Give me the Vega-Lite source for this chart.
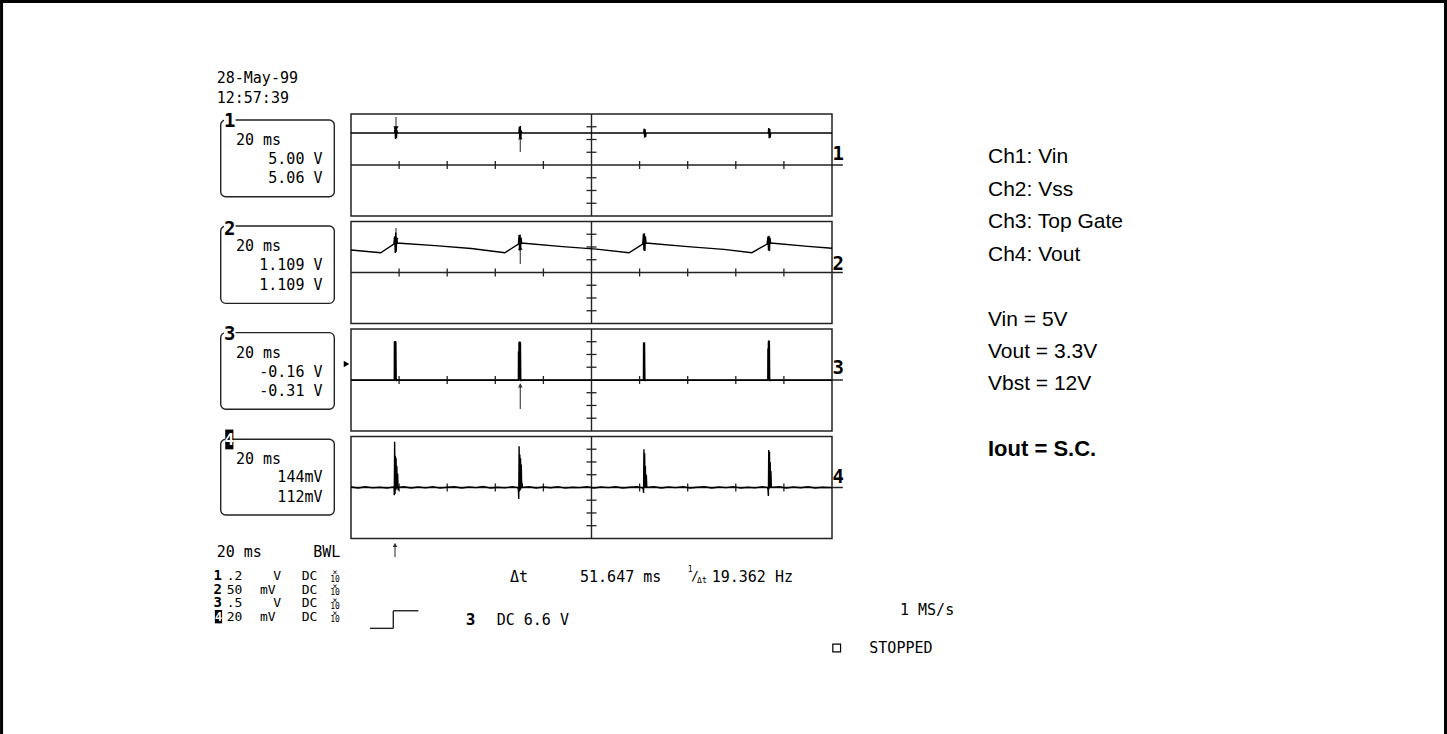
{
"$schema": "https://vega.github.io/schema/vega-lite/v6.json",
"width": 481, "height": 425,
"autosize": {"type": "none"},
"padding": {"left": 351, "top": 114, "right": 615, "bottom": 195},
"background": "white",
"config": {"view": {"stroke": null}},
"usermeta": {"embedOptions": {"actions": false}},
"datasets": {
"frame": [
{"x": -145.3, "x2": -145.3, "y": 9, "y2": -49},
{"x": 455.1, "x2": 455.1, "y": 9, "y2": -49},
{"x": -146, "x2": 456, "y": 8.82, "y2": 8.82}
],
"panels": [
{"x": 0, "x2": 200, "y": 0, "y2": -8},
{"x": 0, "x2": 200, "y": -8.43, "y2": -16.43},
{"x": 0, "x2": 200, "y": -16.86, "y2": -24.86},
{"x": 0, "x2": 200, "y": -25.29, "y2": -33.29}
],
"centerlines": [
{"x": 0, "x2": 204.5, "y": -4, "y2": -4},
{"x": 0, "x2": 204.5, "y": -12.43, "y2": -12.43},
{"x": 0, "x2": 204.5, "y": -20.86, "y2": -20.86},
{"x": 0, "x2": 204.5, "y": -29.29, "y2": -29.29},
{"x": 100, "x2": 100, "y": 0, "y2": -8},
{"x": 100, "x2": 100, "y": -8.43, "y2": -16.43},
{"x": 100, "x2": 100, "y": -16.86, "y2": -24.86},
{"x": 100, "x2": 100, "y": -25.29, "y2": -33.29},
{"x": 7.9, "x2": 17.59, "y": -40.34, "y2": -40.34},
{"x": 17.59, "x2": 17.59, "y": -40.34, "y2": -38.96},
{"x": 17.59, "x2": 27.98, "y": -38.96, "y2": -38.96}
],
"xticks": [
{"x": 20, "y": -4}, {"x": 40, "y": -4}, {"x": 60, "y": -4}, {"x": 80, "y": -4}, {"x": 120, "y": -4}, {"x": 140, "y": -4}, {"x": 160, "y": -4}, {"x": 180, "y": -4},
{"x": 20, "y": -12.43}, {"x": 40, "y": -12.43}, {"x": 60, "y": -12.43}, {"x": 80, "y": -12.43}, {"x": 120, "y": -12.43}, {"x": 140, "y": -12.43}, {"x": 160, "y": -12.43}, {"x": 180, "y": -12.43},
{"x": 20, "y": -20.86}, {"x": 40, "y": -20.86}, {"x": 60, "y": -20.86}, {"x": 80, "y": -20.86}, {"x": 120, "y": -20.86}, {"x": 140, "y": -20.86}, {"x": 160, "y": -20.86}, {"x": 180, "y": -20.86},
{"x": 20, "y": -29.29}, {"x": 40, "y": -29.29}, {"x": 60, "y": -29.29}, {"x": 80, "y": -29.29}, {"x": 120, "y": -29.29}, {"x": 140, "y": -29.29}, {"x": 160, "y": -29.29}, {"x": 180, "y": -29.29}
],
"yticks": [
{"x": 100, "y": -1}, {"x": 100, "y": -2}, {"x": 100, "y": -3}, {"x": 100, "y": -5}, {"x": 100, "y": -6}, {"x": 100, "y": -7},
{"x": 100, "y": -9.43}, {"x": 100, "y": -10.43}, {"x": 100, "y": -11.43}, {"x": 100, "y": -13.43}, {"x": 100, "y": -14.43}, {"x": 100, "y": -15.43},
{"x": 100, "y": -17.86}, {"x": 100, "y": -18.86}, {"x": 100, "y": -19.86}, {"x": 100, "y": -21.86}, {"x": 100, "y": -22.86}, {"x": 100, "y": -23.86},
{"x": 100, "y": -26.29}, {"x": 100, "y": -27.29}, {"x": 100, "y": -28.29}, {"x": 100, "y": -30.29}, {"x": 100, "y": -31.29}, {"x": 100, "y": -32.29}
],
"traces": [
{"ch": 1, "x": 0, "y": -1.49}, {"ch": 1, "x": 18.1, "y": -1.49}, {"ch": 1, "x": 18.3, "y": -1.1}, {"ch": 1, "x": 18.5, "y": -1.95}, {"ch": 1, "x": 18.7, "y": -1.0}, {"ch": 1, "x": 18.9, "y": -1.9}, {"ch": 1, "x": 19.1, "y": -1.25}, {"ch": 1, "x": 19.3, "y": -1.49},
{"ch": 1, "x": 69.8, "y": -1.49}, {"ch": 1, "x": 70.0, "y": -1.0}, {"ch": 1, "x": 70.2, "y": -1.9}, {"ch": 1, "x": 70.4, "y": -0.95}, {"ch": 1, "x": 70.6, "y": -1.95}, {"ch": 1, "x": 70.8, "y": -1.3}, {"ch": 1, "x": 71.0, "y": -1.49},
{"ch": 1, "x": 121.7, "y": -1.49}, {"ch": 1, "x": 121.9, "y": -1.15}, {"ch": 1, "x": 122.1, "y": -1.85}, {"ch": 1, "x": 122.3, "y": -1.2}, {"ch": 1, "x": 122.5, "y": -1.8}, {"ch": 1, "x": 122.7, "y": -1.49},
{"ch": 1, "x": 173.5, "y": -1.49}, {"ch": 1, "x": 173.7, "y": -1.1}, {"ch": 1, "x": 173.9, "y": -1.9}, {"ch": 1, "x": 174.1, "y": -1.15}, {"ch": 1, "x": 174.3, "y": -1.85}, {"ch": 1, "x": 174.5, "y": -1.49}, {"ch": 1, "x": 200, "y": -1.49},
{"ch": 2, "x": 0, "y": -10.67}, {"ch": 2, "x": 12.35, "y": -10.88}, {"ch": 2, "x": 17.8, "y": -10.2},
{"ch": 2, "x": 18.2, "y": -9.6}, {"ch": 2, "x": 18.4, "y": -10.9}, {"ch": 2, "x": 18.6, "y": -9.3}, {"ch": 2, "x": 18.8, "y": -10.8}, {"ch": 2, "x": 19.0, "y": -9.7}, {"ch": 2, "x": 19.3, "y": -10.14},
{"ch": 2, "x": 20.5, "y": -10.14}, {"ch": 2, "x": 35, "y": -10.32}, {"ch": 2, "x": 50, "y": -10.55}, {"ch": 2, "x": 64.0, "y": -10.88}, {"ch": 2, "x": 69.6, "y": -10.2},
{"ch": 2, "x": 69.9, "y": -9.5}, {"ch": 2, "x": 70.1, "y": -10.7}, {"ch": 2, "x": 70.3, "y": -9.45}, {"ch": 2, "x": 70.5, "y": -10.65}, {"ch": 2, "x": 70.7, "y": -9.7}, {"ch": 2, "x": 71.0, "y": -10.14},
{"ch": 2, "x": 72.0, "y": -10.14}, {"ch": 2, "x": 88, "y": -10.4}, {"ch": 2, "x": 102, "y": -10.6}, {"ch": 2, "x": 115.6, "y": -10.88}, {"ch": 2, "x": 121.3, "y": -10.2},
{"ch": 2, "x": 121.6, "y": -9.4}, {"ch": 2, "x": 121.8, "y": -10.7}, {"ch": 2, "x": 122.0, "y": -9.35}, {"ch": 2, "x": 122.2, "y": -10.75}, {"ch": 2, "x": 122.4, "y": -9.6}, {"ch": 2, "x": 122.7, "y": -10.14},
{"ch": 2, "x": 123.8, "y": -10.14}, {"ch": 2, "x": 140, "y": -10.4}, {"ch": 2, "x": 155, "y": -10.62}, {"ch": 2, "x": 166.7, "y": -10.88}, {"ch": 2, "x": 173.0, "y": -10.2},
{"ch": 2, "x": 173.4, "y": -9.6}, {"ch": 2, "x": 173.6, "y": -10.7}, {"ch": 2, "x": 173.8, "y": -9.55}, {"ch": 2, "x": 174.0, "y": -10.75}, {"ch": 2, "x": 174.2, "y": -9.7}, {"ch": 2, "x": 174.5, "y": -10.14},
{"ch": 2, "x": 175.6, "y": -10.14}, {"ch": 2, "x": 190, "y": -10.38}, {"ch": 2, "x": 200, "y": -10.53},
{"ch": 3, "x": 0, "y": -20.88}, {"ch": 3, "x": 18.0, "y": -20.88}, {"ch": 3, "x": 18.05, "y": -17.85}, {"ch": 3, "x": 18.2, "y": -20.88}, {"ch": 3, "x": 18.25, "y": -17.8}, {"ch": 3, "x": 18.4, "y": -20.88}, {"ch": 3, "x": 18.45, "y": -17.8}, {"ch": 3, "x": 18.6, "y": -20.88}, {"ch": 3, "x": 18.65, "y": -17.85}, {"ch": 3, "x": 18.8, "y": -20.95}, {"ch": 3, "x": 18.95, "y": -20.88},
{"ch": 3, "x": 69.6, "y": -20.88}, {"ch": 3, "x": 69.65, "y": -18.6}, {"ch": 3, "x": 69.8, "y": -20.9}, {"ch": 3, "x": 69.85, "y": -17.9}, {"ch": 3, "x": 70.0, "y": -20.9}, {"ch": 3, "x": 70.05, "y": -17.85}, {"ch": 3, "x": 70.2, "y": -20.9}, {"ch": 3, "x": 70.25, "y": -17.85}, {"ch": 3, "x": 70.4, "y": -20.9}, {"ch": 3, "x": 70.45, "y": -17.9}, {"ch": 3, "x": 70.6, "y": -20.95}, {"ch": 3, "x": 70.75, "y": -20.88},
{"ch": 3, "x": 121.6, "y": -20.88}, {"ch": 3, "x": 121.65, "y": -17.95}, {"ch": 3, "x": 121.8, "y": -20.9}, {"ch": 3, "x": 121.85, "y": -17.9}, {"ch": 3, "x": 122.0, "y": -20.9}, {"ch": 3, "x": 122.05, "y": -17.9}, {"ch": 3, "x": 122.2, "y": -20.95}, {"ch": 3, "x": 122.35, "y": -20.88},
{"ch": 3, "x": 173.3, "y": -20.88}, {"ch": 3, "x": 173.35, "y": -18.4}, {"ch": 3, "x": 173.5, "y": -20.9}, {"ch": 3, "x": 173.55, "y": -17.85}, {"ch": 3, "x": 173.7, "y": -20.9}, {"ch": 3, "x": 173.75, "y": -17.75}, {"ch": 3, "x": 173.9, "y": -20.9}, {"ch": 3, "x": 173.95, "y": -17.8}, {"ch": 3, "x": 174.1, "y": -20.95}, {"ch": 3, "x": 174.25, "y": -20.88}, {"ch": 3, "x": 200, "y": -20.88},
{"ch": 4, "x": 0, "y": -29.26}, {"ch": 4, "x": 3, "y": -29.33}, {"ch": 4, "x": 6, "y": -29.24}, {"ch": 4, "x": 9, "y": -29.32}, {"ch": 4, "x": 12, "y": -29.27}, {"ch": 4, "x": 15, "y": -29.34}, {"ch": 4, "x": 17.5, "y": -29.25},
{"ch": 4, "x": 17.9, "y": -29.3}, {"ch": 4, "x": 18.0, "y": -29.9}, {"ch": 4, "x": 18.15, "y": -25.7}, {"ch": 4, "x": 18.3, "y": -29.8}, {"ch": 4, "x": 18.45, "y": -26.8}, {"ch": 4, "x": 18.6, "y": -29.5}, {"ch": 4, "x": 18.75, "y": -27.0}, {"ch": 4, "x": 18.9, "y": -29.4}, {"ch": 4, "x": 19.05, "y": -27.6}, {"ch": 4, "x": 19.2, "y": -29.3}, {"ch": 4, "x": 19.4, "y": -28.2}, {"ch": 4, "x": 19.6, "y": -29.5}, {"ch": 4, "x": 19.8, "y": -29.28},
{"ch": 4, "x": 22, "y": -29.23}, {"ch": 4, "x": 25, "y": -29.33}, {"ch": 4, "x": 28, "y": -29.26}, {"ch": 4, "x": 31, "y": -29.32}, {"ch": 4, "x": 34, "y": -29.23}, {"ch": 4, "x": 37, "y": -29.34}, {"ch": 4, "x": 40, "y": -29.27}, {"ch": 4, "x": 43, "y": -29.24}, {"ch": 4, "x": 46, "y": -29.33}, {"ch": 4, "x": 49, "y": -29.26}, {"ch": 4, "x": 52, "y": -29.3}, {"ch": 4, "x": 55, "y": -29.22}, {"ch": 4, "x": 58, "y": -29.34}, {"ch": 4, "x": 61, "y": -29.27}, {"ch": 4, "x": 64, "y": -29.32}, {"ch": 4, "x": 67, "y": -29.24}, {"ch": 4, "x": 69.3, "y": -29.3},
{"ch": 4, "x": 69.6, "y": -29.45}, {"ch": 4, "x": 69.75, "y": -30.2}, {"ch": 4, "x": 69.9, "y": -26.05}, {"ch": 4, "x": 70.05, "y": -29.6}, {"ch": 4, "x": 70.2, "y": -26.7}, {"ch": 4, "x": 70.35, "y": -29.5}, {"ch": 4, "x": 70.5, "y": -27.0}, {"ch": 4, "x": 70.65, "y": -29.4}, {"ch": 4, "x": 70.8, "y": -27.5}, {"ch": 4, "x": 70.95, "y": -29.1}, {"ch": 4, "x": 71.1, "y": -28.9}, {"ch": 4, "x": 71.3, "y": -29.28},
{"ch": 4, "x": 74, "y": -29.24}, {"ch": 4, "x": 77, "y": -29.33}, {"ch": 4, "x": 80, "y": -29.26}, {"ch": 4, "x": 83, "y": -29.31}, {"ch": 4, "x": 86, "y": -29.23}, {"ch": 4, "x": 89, "y": -29.34}, {"ch": 4, "x": 92, "y": -29.27}, {"ch": 4, "x": 95, "y": -29.3}, {"ch": 4, "x": 98, "y": -29.24}, {"ch": 4, "x": 101, "y": -29.33}, {"ch": 4, "x": 104, "y": -29.26}, {"ch": 4, "x": 107, "y": -29.3}, {"ch": 4, "x": 110, "y": -29.23}, {"ch": 4, "x": 113, "y": -29.33}, {"ch": 4, "x": 116, "y": -29.27}, {"ch": 4, "x": 119, "y": -29.24}, {"ch": 4, "x": 121.2, "y": -29.32},
{"ch": 4, "x": 121.5, "y": -29.4}, {"ch": 4, "x": 121.65, "y": -29.73}, {"ch": 4, "x": 121.8, "y": -26.3}, {"ch": 4, "x": 121.95, "y": -29.3}, {"ch": 4, "x": 122.1, "y": -26.6}, {"ch": 4, "x": 122.25, "y": -29.2}, {"ch": 4, "x": 122.4, "y": -27.6}, {"ch": 4, "x": 122.55, "y": -29.3}, {"ch": 4, "x": 122.8, "y": -28.3}, {"ch": 4, "x": 123.0, "y": -29.28},
{"ch": 4, "x": 126, "y": -29.24}, {"ch": 4, "x": 129, "y": -29.33}, {"ch": 4, "x": 132, "y": -29.26}, {"ch": 4, "x": 135, "y": -29.3}, {"ch": 4, "x": 138, "y": -29.23}, {"ch": 4, "x": 141, "y": -29.33}, {"ch": 4, "x": 144, "y": -29.27}, {"ch": 4, "x": 147, "y": -29.24}, {"ch": 4, "x": 150, "y": -29.33}, {"ch": 4, "x": 153, "y": -29.26}, {"ch": 4, "x": 156, "y": -29.3}, {"ch": 4, "x": 159, "y": -29.23}, {"ch": 4, "x": 162, "y": -29.34}, {"ch": 4, "x": 165, "y": -29.27}, {"ch": 4, "x": 168, "y": -29.32}, {"ch": 4, "x": 171, "y": -29.24}, {"ch": 4, "x": 173.2, "y": -29.3},
{"ch": 4, "x": 173.4, "y": -29.5}, {"ch": 4, "x": 173.55, "y": -29.96}, {"ch": 4, "x": 173.7, "y": -26.35}, {"ch": 4, "x": 173.85, "y": -29.4}, {"ch": 4, "x": 174.0, "y": -26.5}, {"ch": 4, "x": 174.15, "y": -29.3}, {"ch": 4, "x": 174.3, "y": -27.3}, {"ch": 4, "x": 174.45, "y": -29.3}, {"ch": 4, "x": 174.6, "y": -28.0}, {"ch": 4, "x": 174.8, "y": -29.28},
{"ch": 4, "x": 178, "y": -29.24}, {"ch": 4, "x": 181, "y": -29.33}, {"ch": 4, "x": 184, "y": -29.26}, {"ch": 4, "x": 187, "y": -29.31}, {"ch": 4, "x": 190, "y": -29.23}, {"ch": 4, "x": 193, "y": -29.33}, {"ch": 4, "x": 196, "y": -29.27}, {"ch": 4, "x": 200, "y": -29.3}
],
"cursors": [
{"x": 18.7, "x2": 18.7, "y": -0.24, "y2": -1.3},
{"x": 18.7, "x2": 18.7, "y": -8.94, "y2": -10.0},
{"x": 70.4, "x2": 70.4, "y": -2.98, "y2": -1.7},
{"x": 70.4, "x2": 70.4, "y": -11.76, "y2": -10.35},
{"x": 70.4, "x2": 70.4, "y": -23.14, "y2": -21.15},
{"x": 18.3, "x2": 18.3, "y": -34.75, "y2": -33.7}
],
"arrowDown": [
{"x": 18.7, "y": -1.15},
{"x": 18.7, "y": -9.9}
],
"arrowUp": [
{"x": 70.4, "y": -1.85},
{"x": 70.4, "y": -10.5},
{"x": 70.4, "y": -21.3},
{"x": 18.3, "y": -33.8}
],
"trigger": [{"x": -1.87, "y": -19.61}],
"squareMark": [{"x": 201.95, "y": -41.88}],
"boxes": [
{"x": -54.18, "x2": -6.94, "y": -0.47, "y2": -6.49},
{"x": -54.18, "x2": -6.94, "y": -8.78, "y2": -14.85},
{"x": -54.18, "x2": -6.94, "y": -17.15, "y2": -23.16},
{"x": -54.18, "x2": -6.94, "y": -25.51, "y2": -31.45}
],
"whiteRects": [
{"x": -52.8, "x2": -48.0, "y": 0.1, "y2": -1.0},
{"x": -52.8, "x2": -48.0, "y": -8.4, "y2": -9.5},
{"x": -52.8, "x2": -48.0, "y": -16.7, "y2": -17.8}
],
"blackRects": [
{"x": -52.3, "x2": -48.9, "y": -24.75, "y2": -26.3},
{"x": -56.6, "x2": -53.6, "y": -38.9, "y2": -39.95}
],
"monoL": [
{"x": -55.84, "y": 2.84, "text": "28-May-99"},
{"x": -55.84, "y": 1.29, "text": "12:57:39"},
{"x": -47.82, "y": -2.04, "text": "20 ms"},
{"x": -47.82, "y": -10.34, "text": "20 ms"},
{"x": -47.82, "y": -18.72, "text": "20 ms"},
{"x": -47.82, "y": -27.04, "text": "20 ms"},
{"x": -55.84, "y": -34.33, "text": "20 ms"},
{"x": -15.68, "y": -34.33, "text": "BWL"},
{"x": 60.58, "y": -39.69, "text": "DC 6.6 V"},
{"x": 66.11, "y": -36.29, "text": "Δt"},
{"x": 95.22, "y": -36.29, "text": "51.647 ms"},
{"x": 149.98, "y": -36.29, "text": "19.362 Hz"},
{"x": 228.27, "y": -38.9, "text": "1 MS/s"},
{"x": 215.51, "y": -41.88, "text": "STOPPED"}
],
"monoRows": [
{"x": -51.68, "y": -36.25, "text": ".2"}, {"x": -32.31, "y": -36.25, "text": "V"}, {"x": -20.5, "y": -36.25, "text": "DC"},
{"x": -51.68, "y": -37.33, "text": "50"}, {"x": -37.84, "y": -37.33, "text": "mV"}, {"x": -20.5, "y": -37.33, "text": "DC"},
{"x": -51.68, "y": -38.38, "text": ".5"}, {"x": -32.31, "y": -38.38, "text": "V"}, {"x": -20.5, "y": -38.38, "text": "DC"},
{"x": -51.68, "y": -39.43, "text": "20"}, {"x": -37.84, "y": -39.43, "text": "mV"}, {"x": -20.5, "y": -39.43, "text": "DC"}
],
"monoR": [
{"x": -11.85, "y": -3.51, "text": "5.00 V"},
{"x": -11.85, "y": -5.0, "text": "5.06 V"},
{"x": -11.85, "y": -11.84, "text": "1.109 V"},
{"x": -11.85, "y": -13.41, "text": "1.109 V"},
{"x": -11.85, "y": -20.21, "text": "-0.16 V"},
{"x": -11.85, "y": -21.73, "text": "-0.31 V"},
{"x": -11.85, "y": -28.45, "text": "144mV"},
{"x": -11.85, "y": -30.02, "text": "112mV"}
],
"bigDigits": [
{"x": -50.44, "y": -0.53, "text": "1"},
{"x": -50.44, "y": -9.02, "text": "2"},
{"x": -50.44, "y": -17.25, "text": "3"},
{"x": 202.6, "y": -3.14, "text": "1"},
{"x": 202.6, "y": -11.76, "text": "2"},
{"x": 202.6, "y": -19.92, "text": "3"},
{"x": 202.6, "y": -28.45, "text": "4"}
],
"smallDigits": [
{"x": -55.4, "y": -36.25, "text": "1"},
{"x": -55.4, "y": -37.33, "text": "2"},
{"x": -55.4, "y": -38.38, "text": "3"}
],
"midDigits": [
{"x": 49.69, "y": -39.69, "text": "3"}
],
"whiteBig": [{"x": -50.6, "y": -25.55, "text": "4"}],
"whiteSmall": [{"x": -55.1, "y": -39.43, "text": "4"}],
"tiny": [
{"x": -6.65, "y": -36.03, "text": "×"}, {"x": -6.65, "y": -36.52, "text": "10"},
{"x": -6.65, "y": -37.11, "text": "×"}, {"x": -6.65, "y": -37.6, "text": "10"},
{"x": -6.65, "y": -38.16, "text": "×"}, {"x": -6.65, "y": -38.65, "text": "10"},
{"x": -6.65, "y": -39.21, "text": "×"}, {"x": -6.65, "y": -39.7, "text": "10"},
{"x": 141.0, "y": -35.8, "text": "1"},
{"x": 145.9, "y": -36.6, "text": "Δt"}
],
"slash": [{"x": 143.0, "y": -36.2, "text": "/"}],
"sans": [
{"x": 264.86, "y": -3.37, "text": "Ch1: Vin"},
{"x": 264.86, "y": -5.96, "text": "Ch2: Vss"},
{"x": 264.86, "y": -8.47, "text": "Ch3: Top Gate"},
{"x": 264.86, "y": -11.06, "text": "Ch4: Vout"},
{"x": 264.86, "y": -16.16, "text": "Vin = 5V"},
{"x": 264.86, "y": -18.67, "text": "Vout = 3.3V"},
{"x": 264.86, "y": -21.18, "text": "Vbst = 12V"}
],
"sansBold": [
{"x": 264.86, "y": -26.27, "text": "Iout = S.C."}
]
},
"encoding": {
"x": {"field": "x", "type": "quantitative", "scale": {"domain": [0, 200], "nice": false, "zero": false}, "axis": null},
"y": {"field": "y", "type": "quantitative", "scale": {"domain": [-33.333, 0], "nice": false, "zero": false}, "axis": null}
},
"layer": [
{"data": {"name": "frame"}, "mark": {"type": "rule", "color": "black", "strokeWidth": 3}, "encoding": {"x2": {"field": "x2"}, "y2": {"field": "y2"}}},
{"data": {"name": "panels"}, "mark": {"type": "rect", "fill": "white", "fillOpacity": 0, "stroke": "#222222", "strokeWidth": 1.5}, "encoding": {"x2": {"field": "x2"}, "y2": {"field": "y2"}}},
{"data": {"name": "centerlines"}, "mark": {"type": "rule", "color": "#222222", "strokeWidth": 1.4}, "encoding": {"x2": {"field": "x2"}, "y2": {"field": "y2"}}},
{"data": {"name": "xticks"}, "mark": {"type": "tick", "orient": "vertical", "color": "#222222", "size": 8, "thickness": 1.3, "opacity": 1}},
{"data": {"name": "yticks"}, "mark": {"type": "tick", "orient": "horizontal", "color": "#222222", "size": 10, "thickness": 1.3, "opacity": 1}},
{"data": {"name": "cursors"}, "mark": {"type": "rule", "color": "#555555", "strokeWidth": 1.3}, "encoding": {"x2": {"field": "x2"}, "y2": {"field": "y2"}}},
{"data": {"name": "arrowDown"}, "mark": {"type": "point", "shape": "triangle-down", "filled": true, "color": "black", "size": 28, "opacity": 1}},
{"data": {"name": "arrowUp"}, "mark": {"type": "point", "shape": "triangle-up", "filled": true, "color": "#333333", "size": 22, "opacity": 1}},
{"data": {"name": "traces"}, "mark": {"type": "line", "color": "black", "strokeWidth": 1.4}, "encoding": {"detail": {"field": "ch"}}},
{"data": {"name": "trigger"}, "mark": {"type": "point", "shape": "triangle-right", "filled": true, "color": "black", "size": 40, "opacity": 1}},
{"data": {"name": "squareMark"}, "mark": {"type": "point", "shape": "square", "filled": false, "color": "black", "size": 60, "strokeWidth": 1.2, "opacity": 1}},
{"data": {"name": "boxes"}, "mark": {"type": "rect", "fill": "white", "fillOpacity": 0, "stroke": "#222222", "strokeWidth": 1.4, "cornerRadius": 5}, "encoding": {"x2": {"field": "x2"}, "y2": {"field": "y2"}}},
{"data": {"name": "whiteRects"}, "mark": {"type": "rect", "color": "white"}, "encoding": {"x2": {"field": "x2"}, "y2": {"field": "y2"}}},
{"data": {"name": "blackRects"}, "mark": {"type": "rect", "color": "black"}, "encoding": {"x2": {"field": "x2"}, "y2": {"field": "y2"}}},
{"data": {"name": "monoL"}, "mark": {"type": "text", "align": "left", "baseline": "middle", "font": "DejaVu Sans Mono", "fontSize": 15, "color": "black"}, "encoding": {"text": {"field": "text"}}},
{"data": {"name": "monoRows"}, "mark": {"type": "text", "align": "left", "baseline": "middle", "font": "DejaVu Sans Mono", "fontSize": 13, "color": "black"}, "encoding": {"text": {"field": "text"}}},
{"data": {"name": "monoR"}, "mark": {"type": "text", "align": "right", "baseline": "middle", "font": "DejaVu Sans Mono", "fontSize": 15, "color": "black"}, "encoding": {"text": {"field": "text"}}},
{"data": {"name": "bigDigits"}, "mark": {"type": "text", "align": "center", "baseline": "middle", "font": "DejaVu Sans Mono", "fontWeight": "bold", "fontSize": 19, "color": "black"}, "encoding": {"text": {"field": "text"}}},
{"data": {"name": "smallDigits"}, "mark": {"type": "text", "align": "center", "baseline": "middle", "font": "DejaVu Sans Mono", "fontWeight": "bold", "fontSize": 14, "color": "black"}, "encoding": {"text": {"field": "text"}}},
{"data": {"name": "midDigits"}, "mark": {"type": "text", "align": "center", "baseline": "middle", "font": "DejaVu Sans Mono", "fontWeight": "bold", "fontSize": 16, "color": "black"}, "encoding": {"text": {"field": "text"}}},
{"data": {"name": "whiteBig"}, "mark": {"type": "text", "align": "center", "baseline": "middle", "font": "DejaVu Sans Mono", "fontWeight": "bold", "fontSize": 16, "color": "white"}, "encoding": {"text": {"field": "text"}}},
{"data": {"name": "whiteSmall"}, "mark": {"type": "text", "align": "center", "baseline": "middle", "font": "DejaVu Sans Mono", "fontWeight": "bold", "fontSize": 12, "color": "white"}, "encoding": {"text": {"field": "text"}}},
{"data": {"name": "tiny"}, "mark": {"type": "text", "align": "center", "baseline": "middle", "font": "DejaVu Sans Mono", "fontSize": 8, "color": "black"}, "encoding": {"text": {"field": "text"}}},
{"data": {"name": "slash"}, "mark": {"type": "text", "align": "center", "baseline": "middle", "font": "DejaVu Sans Mono", "fontSize": 13, "color": "black"}, "encoding": {"text": {"field": "text"}}},
{"data": {"name": "sans"}, "mark": {"type": "text", "align": "left", "baseline": "middle", "font": "Liberation Sans", "fontSize": 21, "color": "black"}, "encoding": {"text": {"field": "text"}}},
{"data": {"name": "sansBold"}, "mark": {"type": "text", "align": "left", "baseline": "middle", "font": "Liberation Sans", "fontWeight": "bold", "fontSize": 22, "color": "black"}, "encoding": {"text": {"field": "text"}}}
]
}
